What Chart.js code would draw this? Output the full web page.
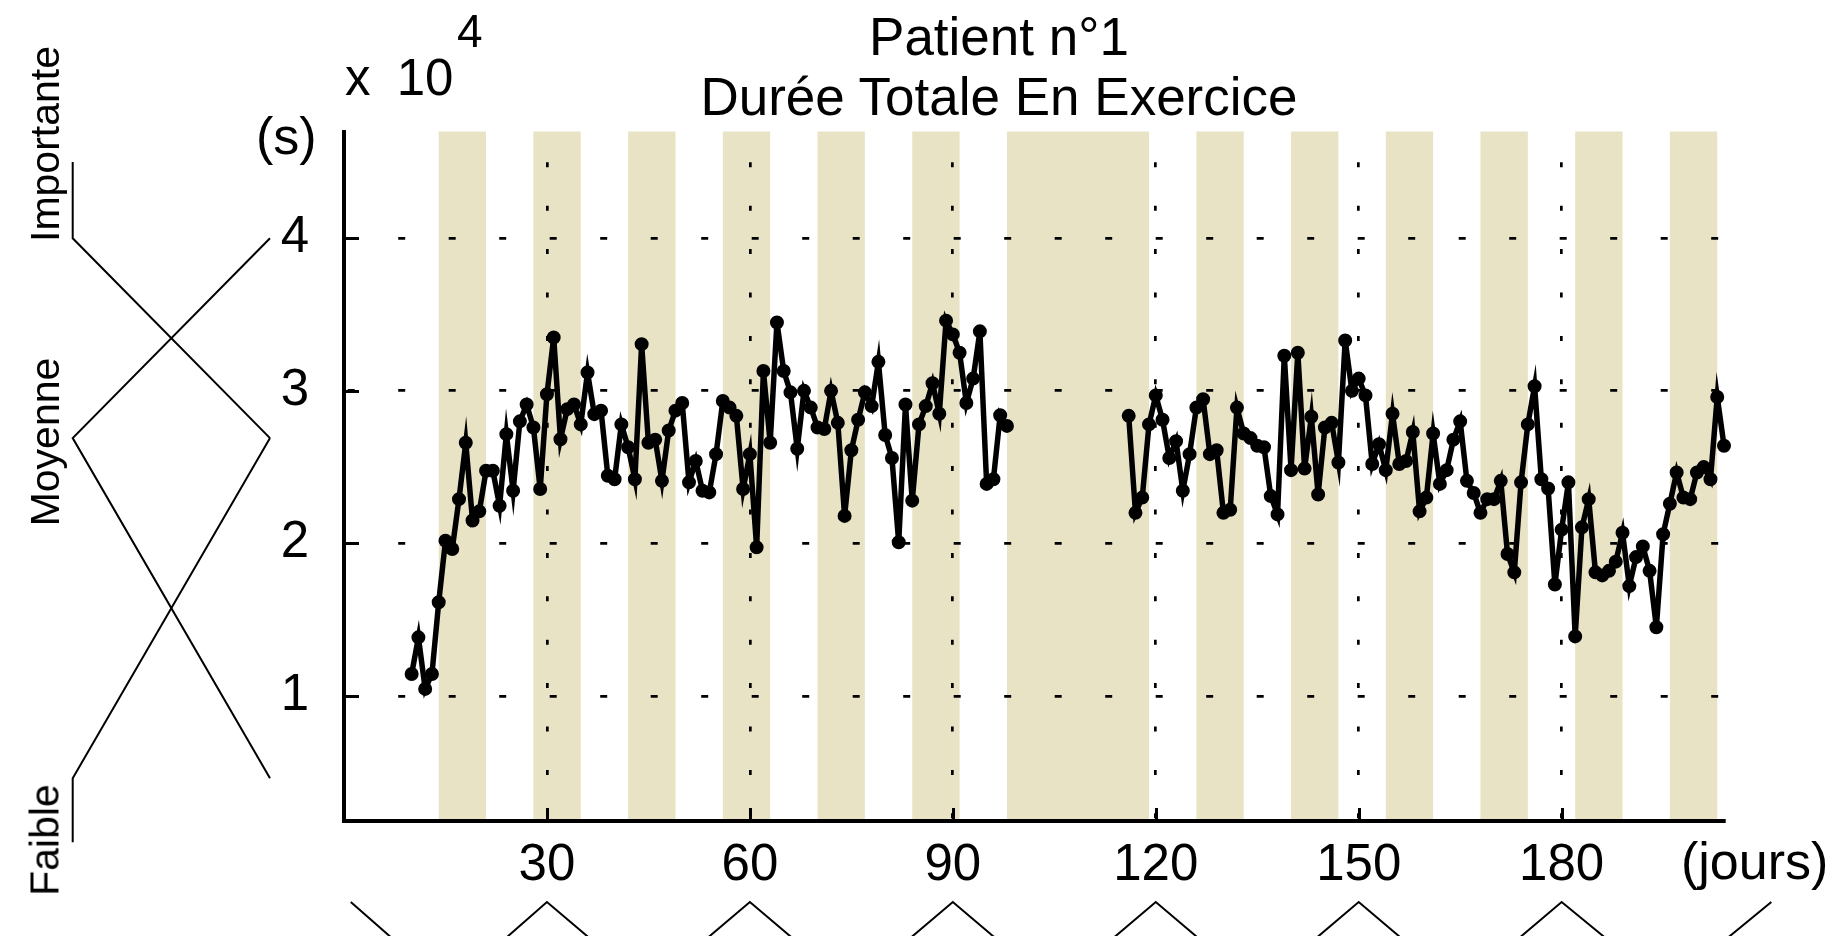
<!DOCTYPE html>
<html>
<head>
<meta charset="utf-8">
<title>Patient n°1 - Durée Totale En Exercice</title>
<script src="https://cdn.jsdelivr.net/npm/chart.js@4.4.1/dist/chart.umd.min.js"></script>
<style>
  html, body { margin: 0; padding: 0; background: #fff; }
  #wrap { position: relative; width: 1847px; height: 936px; overflow: hidden;
          font-family: 'Liberation Sans', Arial, sans-serif; color: #000; }
  #chart { position: absolute; left: 0; top: 0; }
  .lbl { position: absolute; white-space: nowrap; line-height: 1; }
  .rot { transform: translate(-50%, -50%) rotate(-90deg); }
</style>
</head>
<body>
<div id="wrap">
  <canvas id="chart" width="1847" height="936"></canvas>

  <div class="lbl" style="left:999px; top:7px; font-size:53px; line-height:60px; text-align:center; transform:translateX(-50%);">Patient n°1<br>Durée Totale En Exercice</div>
  <div class="lbl" style="left:345px; top:52px; font-size:51px; word-spacing:12px;">x 10</div>
  <div class="lbl" style="left:457px; top:8px; font-size:46px;">4</div>
  <div class="lbl" style="left:256px; top:110px; font-size:52px;">(s)</div>
  <div class="lbl" style="left:1681px; top:835px; font-size:52px;">(jours)</div>

  <div class="lbl rot" style="left:45px; top:144px; font-size:41px;">Importante</div>
  <div class="lbl rot" style="left:45px; top:442px; font-size:41px;">Moyenne</div>
  <div class="lbl rot" style="left:45px; top:840px; font-size:41px;">Faible</div>
</div>

<script>
// Durée totale en exercice (s), one value per day
const firstDayA = 10;
const dureeA = [
  11440, 13840, 10460, 11440, 16140, 20170, 19630, 22900, 26600, 21500,
  22100, 24760, 24760, 22470, 27160, 23450, 28000, 29100, 27600, 23560,
  29780, 33500, 26830, 28800, 29100, 27800, 31200, 28470, 28700, 24430,
  24200, 27800, 26300, 24200, 33060, 26600, 26800, 24100, 27400, 28700,
  29200, 24000, 25400, 23450, 23340, 25850, 29340, 28900, 28360, 23560,
  25850, 19740, 31300, 26600, 34480, 31300, 29900, 26200, 30000, 28900,
  27600, 27500, 30000, 27900, 21800, 26100, 28100, 29900, 29000, 31900,
  27100, 25600, 20070, 29100, 22800, 27800, 29000, 30500, 28500, 34600,
  33700, 32500, 29200, 30800, 33900, 23900, 24200, 28400, 27700
];
const firstDayB = 116;
const dureeB = [
  28360, 22000, 23000, 27800, 29700, 28100, 25600, 26700, 23450, 25850,
  28900, 29450, 25850, 26100, 22000, 22200, 28900, 27200, 26900, 26400,
  26300, 23100, 21900, 32300, 24800, 32500, 24900, 28300, 23200, 27600,
  27900, 25300, 33300, 30000, 30800, 29700, 25200, 26500, 24800, 28500,
  25200, 25400, 27300, 22100, 23000, 27200, 23900, 24800, 26800, 28000,
  24100, 23300, 22000, 22900, 22900, 24100, 19300, 18100, 24000, 27800,
  30300, 24200, 23600, 17300, 20900, 24000, 13900, 21050, 22900, 18100,
  17900, 18200, 18800, 20700, 17200, 19100, 19800, 18200, 14500, 20600,
  22600, 24650, 23000, 22900, 24650, 25000, 24200, 29600, 26400
];

const daysA = Array.from({ length: dureeA.length }, (_, i) => firstDayA + i);
const daysB = Array.from({ length: dureeB.length }, (_, i) => firstDayB + i);

// shaded weeks (days)
const restWeeks = [[14, 21], [28, 35], [42, 49], [56, 63], [70, 77], [84, 91], [98, 119],
                   [126, 133], [140, 147], [154, 161], [168, 175], [182, 189], [196, 203]];

// axis ticks
const xTicks = [30, 60, 90, 120, 150, 180];
const yTicks = [10000, 20000, 30000, 40000];

// fuzzy levels drawn at the left (value in s, membership 0..1)
const importanteVals = [45000, 40000, 26900];
const importanteMu   = [1, 1, 0];
const moyenneVals    = [40000, 26900, 4600];
const moyenneMu      = [0, 1, 0];
const faibleVals     = [400, 4600, 26900];
const faibleMu       = [1, 1, 0];

// month membership peaks drawn under the x axis (days)
const monthPeaks = [1, 30, 60, 90, 120, 150, 180, 211];

const bandColor = '#e9e3c6';

function toPoints(days, vals) {
    return days.map((d, i) => ({ x: d, y: vals[i] }));
}

//Shaded weeks behind the grid
const bandsPlugin = {
    id: 'bands',
    beforeDraw(chart) {
        const { ctx, chartArea, scales: { x } } = chart;
        ctx.save();
        ctx.fillStyle = bandColor;
        restWeeks.forEach(([a, b]) => {
            const x1 = x.getPixelForValue(a);
            const x2 = x.getPixelForValue(b);
            ctx.fillRect(x1, chartArea.top, x2 - x1, chartArea.bottom - chartArea.top);
        });
        ctx.restore();
    }
};

//Inward tick marks + membership sketches
const extrasPlugin = {
    id: 'extras',
    afterDraw(chart) {
        const { ctx, chartArea, scales: { x, y } } = chart;
        ctx.save();
        ctx.strokeStyle = '#000';

        ctx.lineWidth = 3;
        ctx.beginPath();
        yTicks.forEach(v => {
            const py = Math.round(y.getPixelForValue(v)) + 0.5;
            ctx.moveTo(chartArea.left, py);
            ctx.lineTo(chartArea.left + 15, py);
        });
        xTicks.forEach(v => {
            const px = Math.round(x.getPixelForValue(v)) + 0.5;
            ctx.moveTo(px, chartArea.bottom);
            ctx.lineTo(px, chartArea.bottom - 13);
        });
        ctx.stroke();

        // left membership curves
        const muX = m => 270 - m * (270 - 72.7);
        ctx.lineWidth = 2;
        [[importanteVals, importanteMu], [moyenneVals, moyenneMu], [faibleVals, faibleMu]].forEach(([vals, mus]) => {
            ctx.beginPath();
            vals.forEach((v, i) => {
                const px = muX(mus[i]);
                const py = y.getPixelForValue(v);
                if (i === 0) ctx.moveTo(px, py); else ctx.lineTo(px, py);
            });
            ctx.stroke();
        });

        // bottom month memberships (zigzag, lows fall below the canvas)
        const topY = 902;
        const lowY = 902 + 35 * 15 / 6.1;
        ctx.beginPath();
        monthPeaks.forEach((p, i) => {
            const px = x.getPixelForValue(p);
            if (i === 0) ctx.moveTo(px, topY); else ctx.lineTo(px, topY);
            if (i < monthPeaks.length - 1) ctx.lineTo(x.getPixelForValue((p + monthPeaks[i + 1]) / 2), lowY);
        });
        ctx.stroke();
        ctx.restore();
    }
};

const lineStyle = {
    borderColor: '#000',
    backgroundColor: '#000',
    borderWidth: 5.5,
    pointRadius: 6,
    pointBorderWidth: 2,
    pointBorderColor: '#000',
    pointBackgroundColor: '#000',
    tension: 0,
    clip: false
};

new Chart(document.getElementById('chart').getContext('2d'), {
    type: 'line',
    data: {
        datasets: [
            Object.assign({ label: 'A', data: toPoints(daysA, dureeA) }, lineStyle),
            Object.assign({ label: 'B', data: toPoints(daysB, dureeB) }, lineStyle)
        ]
    },
    options: {
        responsive: false,
        animation: false,
        devicePixelRatio: 1,
        layout: { padding: { left: 0, top: 131.5, right: 123, bottom: 0 } },
        plugins: {
            legend: { display: false },
            tooltip: { enabled: false },
            title: { display: false }
        },
        scales: {
            x: {
                type: 'linear',
                min: 0,
                max: 204,
                afterBuildTicks: s => { s.ticks = xTicks.map(v => ({ value: v })); },
                afterFit: s => { s.height = 115; },
                ticks: {
                    color: '#000',
                    font: { family: 'Liberation Sans', size: 51 },
                    padding: 14,
                    maxRotation: 0,
                    autoSkip: false
                },
                grid: { color: '#000', lineWidth: 2.7, drawTicks: false },
                border: { display: true, color: '#000', width: 4, dash: [5, 38.4], dashOffset: 12.6 }
            },
            y: {
                type: 'linear',
                min: 1800,
                max: 47000,
                afterBuildTicks: s => { s.ticks = yTicks.map(v => ({ value: v })); },
                afterFit: s => { s.width = 344; },
                ticks: {
                    color: '#000',
                    font: { family: 'Liberation Sans', size: 51 },
                    padding: 35,
                    callback: v => v / 10000
                },
                grid: { color: '#000', lineWidth: 2.7, drawTicks: false },
                border: { display: true, color: '#000', width: 4, dash: [7, 43.5], dashOffset: 48.8 }
            }
        }
    },
    plugins: [bandsPlugin, extrasPlugin]
});
</script>
</body>
</html>
